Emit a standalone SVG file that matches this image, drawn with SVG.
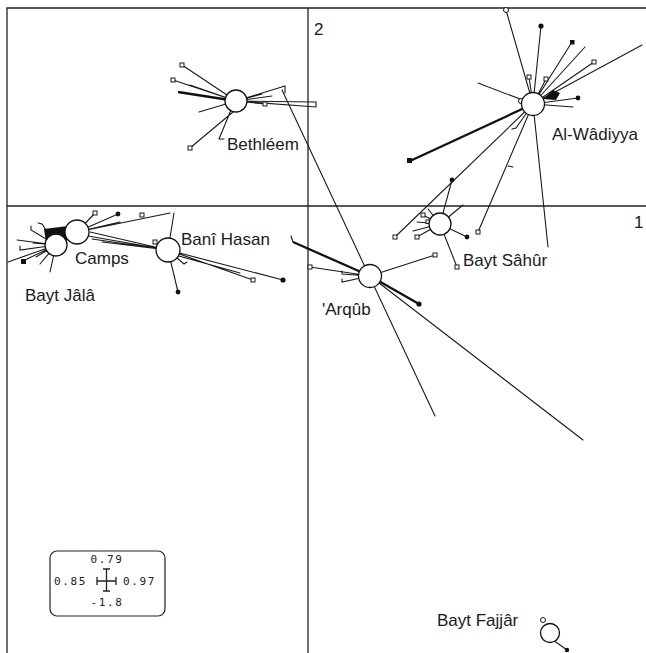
<svg xmlns="http://www.w3.org/2000/svg" width="646" height="653" viewBox="0 0 646 653">
<style>
.fr{stroke:#222;stroke-width:1.3;fill:none}
.l{stroke:#1a1a1a;stroke-width:1.1;fill:none;stroke-linecap:round}
.t{stroke:#111;stroke-width:2.3;fill:none}
.os{fill:#fff;stroke:#1a1a1a;stroke-width:1}
.f{fill:#111;stroke:none}
.n{fill:#fff;stroke:#111;stroke-width:1.3}
.lb{font-family:"Liberation Sans",Arial,sans-serif;font-size:17px;fill:#1a1a1a}
.lg{font-family:"DejaVu Sans Mono",monospace;font-size:11px;letter-spacing:1.6px;fill:#222}
</style>
<rect width="646" height="653" fill="#fff"/>
<g id="frame">
<path class="fr" d="M7,653 V8 H646 M308,8 V653 M7,206 H646"/>
<text class="lb" x="314" y="35">2</text>
<text class="lb" x="634" y="228">1</text>
</g>
<g id="connectors">
<!-- Bethleem -->
<path class="l" d="M236,101 L182,65 M236,101 L173,80 M236,101 L199,112 M231,110 L219,139 L224,139 M233,112 L190,148 M236,101 L285,86 L285,93 M236,101 L316,102 L316,107 Z M236,101 L265,104 M236,101 L262,94 M236,101 L272,96 M236,101 L190,85"/>
<path class="t" d="M236,101 L178,92"/>
<rect class="os" x="180" y="63" width="4" height="4"/>
<rect class="os" x="171" y="78" width="4" height="4"/>
<rect class="os" x="188" y="146" width="4" height="4"/>
<rect class="os" x="263" y="102" width="4" height="4"/>
<path class="l" d="M282,90 L435,416"/>
<!-- Al-Wadiyya -->
<path class="l" d="M533,104 L506,10 M533,104 L541,26 M533,104 L572,42 M533,104 L585,47 M533,104 L594,62 M533,104 L642,45 M533,104 L529,77 M533,104 L546,79 M533,104 L578,98 M533,104 L573,107 M533,104 L478,83 M533,104 L395,237 M533,104 L478,232 M508,166 L513,167 M533,104 L548,247 M533,104 L516,128 L512,129"/>
<path class="t" d="M533,104 L410,161"/>
<circle class="os" cx="506" cy="10" r="2.5"/>
<circle class="f" cx="541" cy="26" r="2.6"/>
<rect class="f" x="570" y="40" width="4.5" height="4.5"/>
<rect class="os" x="592" y="60" width="4" height="4"/>
<rect class="os" x="527" y="75" width="4" height="4"/>
<rect class="os" x="544" y="77" width="4" height="4"/>
<polygon class="f" points="543,99 553,90 560,93 556,100"/>
<circle class="f" cx="578" cy="98" r="2.4"/>
<circle class="os" cx="521" cy="101" r="2.5"/>
<rect class="f" x="407" y="158" width="5" height="5"/>
<circle class="f" cx="452" cy="180" r="2.4"/>
<rect class="os" x="393" y="235" width="4" height="4"/>
<rect class="os" x="476" y="230" width="4" height="4"/>
<!-- Bayt Sahur -->
<path class="l" d="M440,224 L452,180 M440,224 L463,205 M440,224 L467,237 M440,224 L457,267 M440,224 L423,215 M440,224 L417,222 M440,224 L413,231 M440,224 L417,237 M440,224 L428,209"/>
<circle class="f" cx="467" cy="237" r="2.4"/>
<rect class="os" x="455" y="265" width="4" height="4"/>
<rect class="os" x="421" y="213" width="4" height="4"/>
<rect class="os" x="415" y="235" width="4" height="4"/>
<rect class="os" x="426" y="220" width="3.5" height="3.5"/>
<!-- Arqub -->
<path class="l" d="M370,276 L435,255 M293,242 L291,236 M370,276 L310,267 M370,276 L342,274 L342,271 M370,276 L342,282 L342,279 M370,276 L583,440"/>
<path class="t" d="M370,276 L293,242 M370,276 L419,304"/>
<rect class="os" x="433" y="253" width="4" height="4"/>
<rect class="os" x="308" y="265" width="4" height="4"/>
<circle class="f" cx="419" cy="304" r="2.6"/>
<!-- Bani Hasan -->
<path class="l" d="M168,250 L174,213 M168,250 L178,292 M168,250 L184,264 L187,262 M168,250 L283,280 M168,250 L253,280 M168,253 L240,273 M168,250 L102,242 M168,250 L88,236 M168,250 L90,232 M168,250 L92,239"/>
<circle class="f" cx="178" cy="292" r="2.4"/>
<circle class="f" cx="283" cy="280" r="2.6"/>
<rect class="os" x="251" y="278" width="4" height="4"/>
<rect class="os" x="153" y="240" width="4" height="4"/>
<!-- Camps -->
<path class="l" d="M77,232 L95,213 M77,232 L118,214 M77,232 L170,213 M77,232 L120,222"/>
<rect class="os" x="93" y="211" width="4" height="4"/>
<circle class="f" cx="118" cy="214" r="2.4"/>
<rect class="os" x="140" y="213" width="4" height="4"/>
<polygon class="f" points="44,229 68,226 70,240 46,242"/>
<!-- Bayt Jala -->
<path class="l" d="M56,245 L8,262 M56,245 L20,250 L20,246 M56,245 L17,240 M56,245 L23,261 M56,245 L36,257 M56,245 L40,264 M56,245 L50,272 M56,245 L31,230 L31,226 M56,245 L42,224 L38,223 M56,245 L33,243"/>
<rect class="f" x="21" y="259" width="5" height="5"/>
<!-- Bayt Fajjar -->
<path class="l" d="M553,640 L567,650"/>
<circle class="os" cx="543" cy="620" r="2.5"/>
<circle class="f" cx="567" cy="650" r="2.2"/>
</g>
<g id="bethleem"><circle class="n" cx="236" cy="101" r="11"/><text class="lb" x="227" y="150">Bethléem</text></g>
<g id="al-wadiyya"><circle class="n" cx="533" cy="104" r="11.5"/><text class="lb" x="552" y="140">Al-Wâdiyya</text></g>
<g id="bayt-sahur"><circle class="n" cx="440" cy="224" r="11"/><text class="lb" x="463" y="266">Bayt Sâhûr</text></g>
<g id="arqub"><circle class="n" cx="370" cy="276" r="11.5"/><text class="lb" x="322" y="315">'Arqûb</text></g>
<g id="bani-hasan"><circle class="n" cx="168" cy="250" r="12"/><text class="lb" x="181" y="245">Banî Hasan</text></g>
<g id="bayt-jala"><circle class="n" cx="56" cy="245" r="11"/><text class="lb" x="25" y="301">Bayt Jâlâ</text></g>
<g id="camps"><circle class="n" cx="77" cy="232" r="12"/><text class="lb" x="75" y="264">Camps</text></g>
<g id="bayt-fajjar"><circle class="n" cx="550" cy="633" r="9.5"/><text class="lb" x="437" y="626">Bayt Fajjâr</text></g>
<g id="legend">
<rect x="50" y="551" width="115" height="65" rx="7" fill="#fff" stroke="#222" stroke-width="1.2"/>
<text class="lg" x="107" y="563" text-anchor="middle">0.79</text>
<text class="lg" x="54" y="585">0.85</text>
<text class="lg" x="123" y="585">0.97</text>
<text class="lg" x="107" y="606" text-anchor="middle">-1.8</text>
<path class="fr" d="M97,581 H116 M97,577 V585 M116,577 V585 M106.5,569 V591 M103,569 H110 M103,591 H110"/>
</g>
</svg>
